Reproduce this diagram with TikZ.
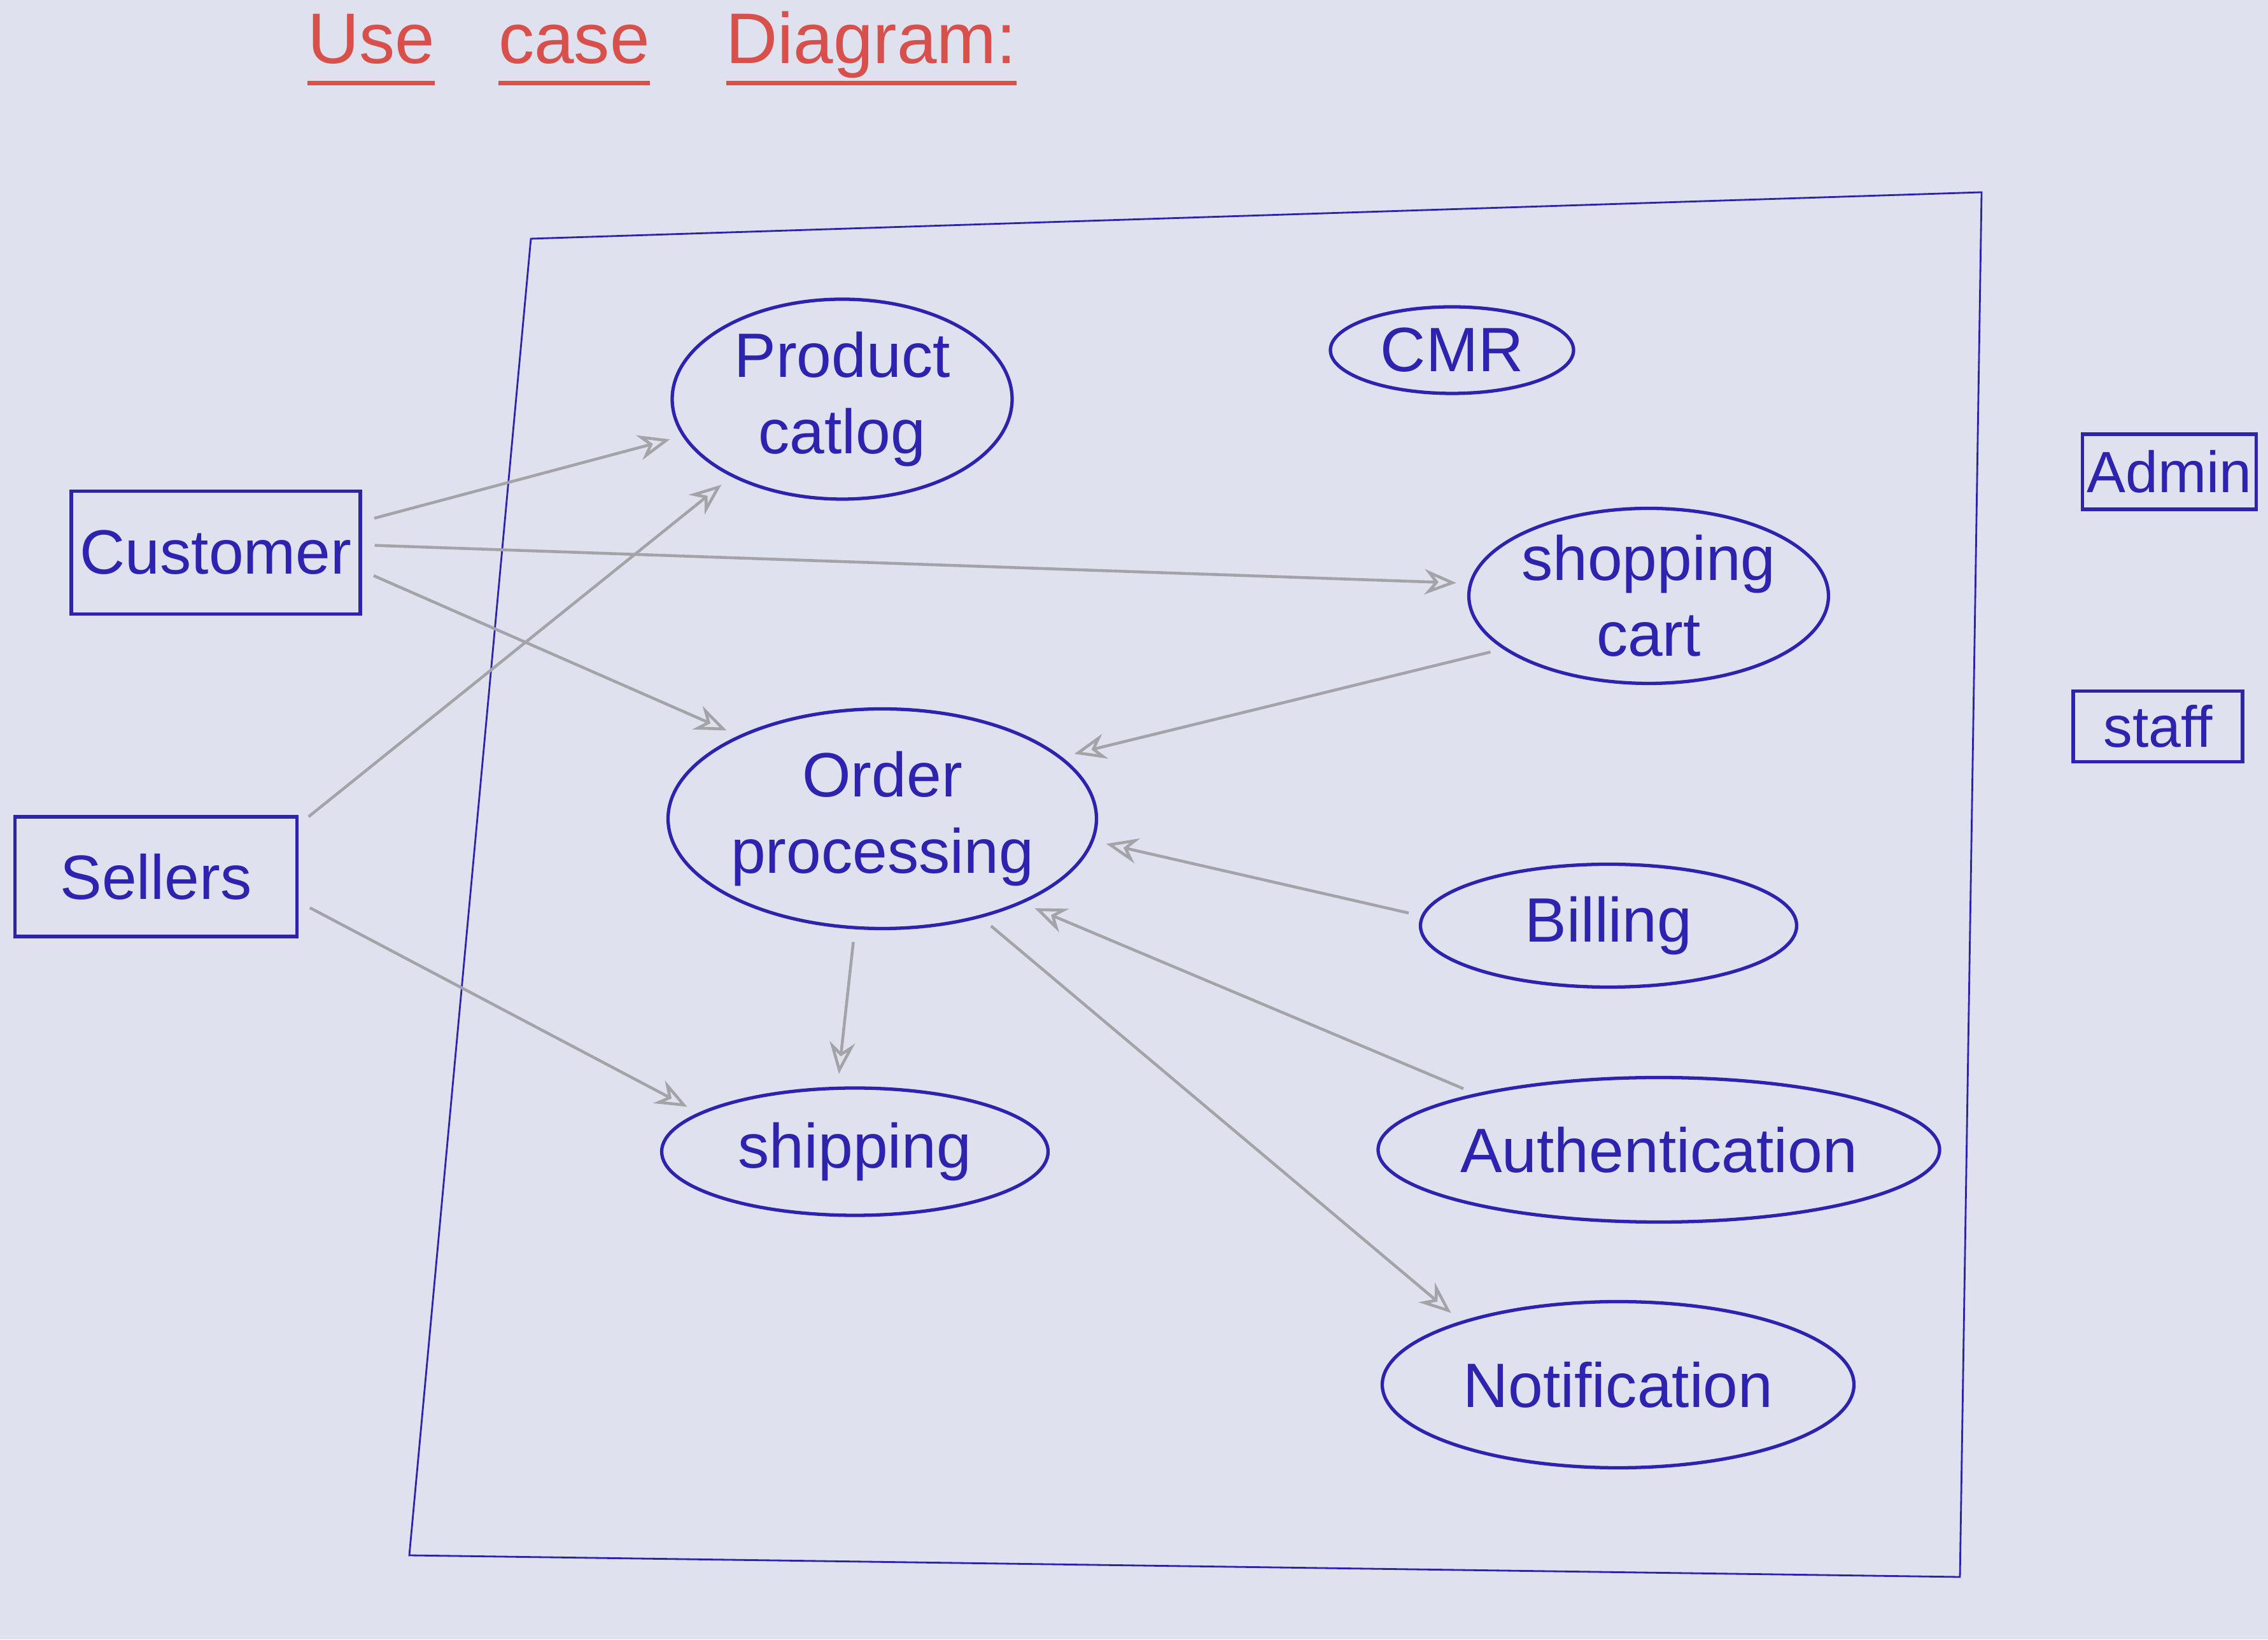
\documentclass[tikz,border=0pt]{standalone}
\usepackage{fontspec}
\setmainfont{Liberation Sans}
\usetikzlibrary{arrows.meta,shapes.geometric}
\definecolor{pen}{HTML}{2D23AF}
\definecolor{pencil}{HTML}{A3A3A8}
\definecolor{redpen}{HTML}{D8504C}
\definecolor{paper}{HTML}{DFE2EE}
\newcommand\penul[1]{\setbox0=\hbox{#1}\rlap{\rule[-0.3em]{\wd0}{1.8pt}}\box0}

\begin{document}
\begin{tikzpicture}[
  uc/.style={draw=pen, ellipse, line width=1.5pt, inner sep=0pt,
    text=pen, align=center, font=\fontsize{28}{34}\selectfont},
  act/.style={draw=pen, rectangle, line width=1.5pt, inner sep=0pt,
    text=pen, font=\fontsize{28}{34}\selectfont},
  lnk/.style={-{Stealth[length=5mm, width=4mm, open]}, draw=pencil,
    line width=1.3pt, shorten <=2mm, shorten >=2mm},
  ttl/.style={text=redpen, font=\fontsize{32}{38}\selectfont},
]
\fill[paper] (0,0) rectangle (35.63,25.75);
\useasboundingbox (0,0) rectangle (35.63,25.75);

% title
\node[ttl, anchor=base] (title) at (10.40,24.75)
  {\penul{Use}\hspace{1.0cm}\penul{case}\hspace{1.2cm}\penul{Diagram:}};

% system boundary
\draw[pen, line width=0.8pt] (8.34,22.00) -- (31.13,22.73) -- (30.79,0.98)
  -- (6.43,1.32) -- cycle;

% actors
\node[act, minimum width=4.54cm, minimum height=1.93cm] (customer) at (3.39,17.07) {Customer};
\node[act, minimum width=4.43cm, minimum height=1.88cm] (sellers) at (2.45,11.98) {Sellers};
\node[act, minimum width=2.73cm, minimum height=1.18cm,
  font=\fontsize{26}{30}\selectfont] (admin) at (34.08,18.34) {Admin};
\node[act, minimum width=2.66cm, minimum height=1.11cm,
  font=\fontsize{26}{30}\selectfont] (staff) at (33.90,14.34) {staff};

% use cases
\node[uc, minimum width=5.34cm, minimum height=3.14cm] (catlog) at (13.23,19.48) {Product\\catlog};
\node[uc, minimum width=3.82cm, minimum height=1.36cm] (cmr) at (22.81,20.25) {CMR};
\node[uc, minimum width=5.54cm, minimum height=2.75cm] (cart) at (25.90,16.39) {shopping\\cart};
\node[uc, minimum width=6.02cm, minimum height=3.45cm] (order) at (13.86,12.89) {Order\\processing};
\node[uc, minimum width=5.91cm, minimum height=1.93cm] (billing) at (25.27,11.21) {Billing};
\node[uc, minimum width=8.38cm, minimum height=2.27cm] (auth) at (26.06,7.69) {Authentication};
\node[uc, minimum width=7.41cm, minimum height=2.61cm] (notif) at (25.42,4.00) {Notification};
\node[uc, minimum width=6.07cm, minimum height=2.00cm] (shipping) at (13.43,7.66) {shipping};

% associations
\draw[lnk] (customer.12) -- (catlog.193);
\draw[lnk] (customer.3) -- (cart.176);
\draw[lnk] (customer.353) -- (order.150);
\draw[lnk] (sellers.20) -- (catlog.215);
\draw[lnk] (sellers.350) -- (shipping.166);
\draw[lnk] (cart.200) -- (order.19);
\draw[lnk] (billing.177) -- (order.354);
\draw[lnk] (auth.163) -- (order.329);
\draw[lnk] (order.256) -- (shipping.105);
\draw[lnk] (order.315) -- (notif.158);
\end{tikzpicture}
\end{document}
